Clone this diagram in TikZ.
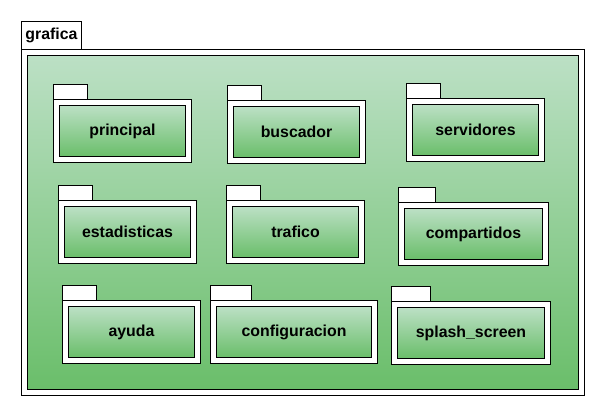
\documentclass[tikz,border=0pt]{standalone}
\usepackage{fontspec}
\setmainfont{Liberation Sans}
\definecolor{gtop}{RGB}{188,224,197}
\definecolor{gbot}{RGB}{106,190,106}
\tikzset{
  line/.style={draw=black, line width=0.75pt},
  tabbox/.style={line, fill=white},
  greenbox/.style={line, top color=gtop, bottom color=gbot},
  lbl/.style={font=\fontsize{11.9}{13}\selectfont\bfseries, inner sep=0pt, text=black},
}
\newcommand\pkgbox[7]{%
  \pgfmathsetmacro\pkbt{#3+15}%
  \pgfmathsetmacro\pkil{#2+6}%
  \pgfmathsetmacro\pkir{#5-6}%
  \pgfmathsetmacro\pkit{\pkbt+6}%
  \pgfmathsetmacro\pkib{#6-6}%
  \path[tabbox] (#2,#3) rectangle (#4,\pkbt);
  \path[tabbox] (#2,\pkbt) rectangle (#5,#6);
  \path[greenbox] (\pkil,\pkit) rectangle (\pkir,\pkib);
  \node[lbl] (#1) at ({(\pkil+\pkir)/2},{(\pkit+\pkib)/2}) {#7};
}
\begin{document}
\begin{tikzpicture}[x=0.75pt,y=-0.75pt]
\useasboundingbox (0,0) rectangle (605,416);
% outer package
\path[tabbox] (21.5,21.5) rectangle (81.5,49.5);
\node[lbl] (grafica) at (51.5,35.5) {grafica};
\path[tabbox] (21.5,49.5) rectangle (584.5,395.5);
\path[greenbox] (27.5,55.5) rectangle (578.5,389.5);
% inner packages
\pkgbox{principal}{53.5}{84.5}{87.5}{191.5}{162.5}{principal}
\pkgbox{buscador}{227.5}{85.5}{261.5}{365.5}{163.5}{buscador}
\pkgbox{servidores}{406.5}{83.5}{440.5}{544.5}{161.5}{servidores}
\pkgbox{estadisticas}{58.5}{185.5}{92.5}{196.5}{263.5}{estadisticas}
\pkgbox{trafico}{226.5}{185.5}{260.5}{364.5}{263.5}{trafico}
\pkgbox{compartidos}{398.5}{187.5}{435.5}{548.5}{265.5}{compartidos}
\pkgbox{ayuda}{62.5}{285.5}{96.5}{200.5}{363.5}{ayuda}
\pkgbox{configuracion}{210.5}{285.5}{251.5}{377.5}{363.5}{configuracion}
\pkgbox{splash}{391.5}{286.5}{430.5}{550.5}{364.5}{splash\_screen}
\end{tikzpicture}
\end{document}
